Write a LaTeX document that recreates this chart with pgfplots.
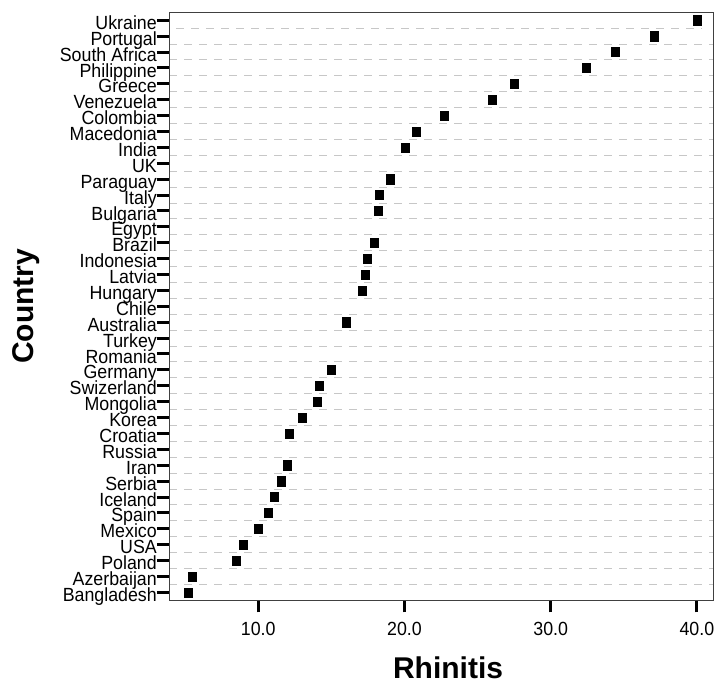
\documentclass[border=0pt]{standalone}
\usepackage{pgfplots}
\pgfplotsset{compat=1.18}
\usepackage{fontspec}
\setmainfont{Liberation Sans}
\begin{document}
\begin{tikzpicture}
\useasboundingbox (0,0) rectangle (717bp,689bp);
\begin{axis}[
  at={(169bp,88.7bp)}, anchor=south west,
  scale only axis, width=544bp, height=588bp,
  xmin=3.9, xmax=41.1, ymin=-0.5, ymax=36.5,
  axis line style={draw=black!75, line width=0.9bp},
  xtick pos=lower, ytick pos=left,
  xtick={10,20,30,40}, xticklabels={10.0,20.0,30.0,40.0},
  ytick={0,...,36},
  yticklabels={Bangladesh,Azerbaijan,Poland,USA,Mexico,Spain,Iceland,Serbia,Iran,Russia,Croatia,Korea,Mongolia,Swizerland,Germany,Romania,Turkey,Australia,Chile,Hungary,Latvia,Indonesia,Brazil,Egypt,Bulgaria,Italy,Paraguay,UK,India,Macedonia,Colombia,Venezuela,Greece,Philippine,South Africa,Portugal,Ukraine},
  minor ytick={0.5,1.5,...,35.5},
  yminorgrids,
  minor grid style={draw=black!22, line width=1bp, dash pattern=on 8.3bp off 6.7bp, shorten <=7bp, shorten >=11bp},
  minor tick length=0pt,
  tick align=outside,
  major tick length=12bp,
  tick style={black, line width=3bp},
  ticklabel style={font=\fontsize{17.8bp}{18bp}\selectfont, inner sep=0pt, yscale=1.07},
  yticklabel style={anchor=base east, yshift=-8.5bp},
  xticklabel style={anchor=base, yshift=-22bp},
  xlabel={Rhinitis}, ylabel={Country},
  label style={font=\fontsize{30bp}{32bp}\selectfont\bfseries},
  xlabel style={at={(axis description cs:0.513,-0.1335)}, anchor=base},
  ylabel style={at={(axis description cs:-0.2495,0.5)}, anchor=base},
]
% one square per country that has a value
\addplot[only marks, mark=square*, mark size=4bp, mark options={yscale=1.15}, black] coordinates {
  (5.2,0) (5.5,1) (8.5,2) (9.0,3) (10.0,4) (10.7,5) (11.1,6) (11.6,7) (12.0,8)
  (12.1,10) (13.0,11) (14.0,12) (14.2,13) (15.0,14) (16.0,17)
  (17.1,19) (17.3,20) (17.45,21) (17.95,22) (18.2,24) (18.3,25) (19.0,26)
  (20.05,28) (20.8,29) (22.7,30) (26.0,31) (27.5,32) (32.4,33) (34.4,34) (37.1,35) (40.0,36)
};
\end{axis}
\end{tikzpicture}
\end{document}
